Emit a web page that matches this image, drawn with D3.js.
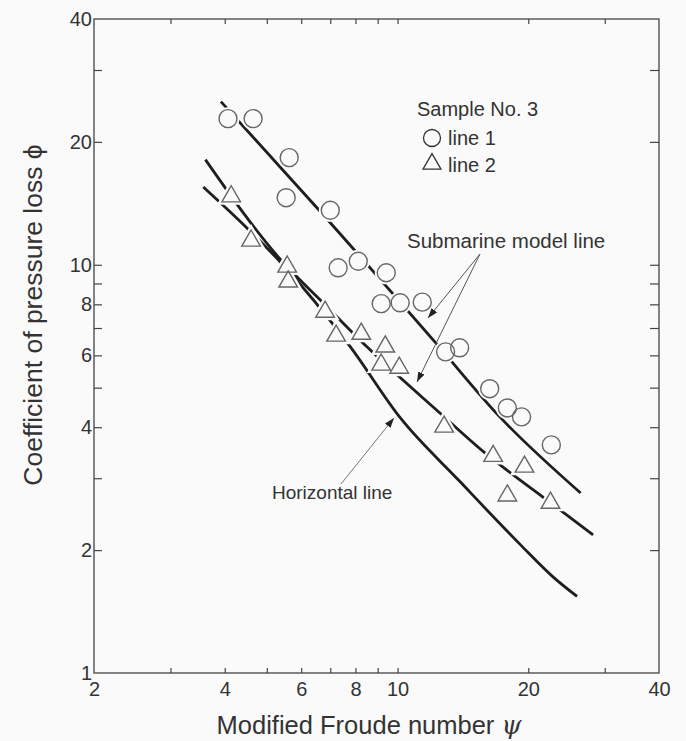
<!DOCTYPE html>
<html><head><meta charset="utf-8">
<script src="https://cdn.jsdelivr.net/npm/d3@7"></script>
<style>
body{margin:0;background:#fafafa}
text{font-family:"Liberation Sans",Arial,Helvetica,sans-serif;fill:#333}
</style>
</head><body>
<svg id="chart" width="686" height="741"></svg>
<script>
// ---- data ----
const xTickLabels = [2, 4, 6, 8, 10, 20, 40];
const xMinorTicks = [3, 5, 7, 9, 30];
const yTickLabels = [1, 2, 4, 6, 8, 10, 20, 40];
const yMinorTicks = [3, 5, 7, 9, 30];

// measured points, Sample No. 3
const line1X = [4.07, 4.65, 5.63, 5.54, 7.0, 7.3, 8.12, 9.42, 9.17, 10.14, 11.4, 12.9, 13.9, 16.3, 17.9, 19.3, 22.6];
const line1Y = [22.8, 22.8, 18.3, 14.6, 13.6, 9.83, 10.2, 9.56, 8.03, 8.07, 8.1, 6.12, 6.26, 4.97, 4.46, 4.24, 3.62];
const line2X = [4.14, 4.60, 5.57, 5.60, 6.81, 7.22, 8.25, 9.37, 9.17, 10.09, 12.8, 16.6, 17.9, 19.6, 22.5];
const line2Y = [14.7, 11.45, 9.89, 9.09, 7.67, 6.70, 6.77, 6.30, 5.69, 5.59, 4.01, 3.40, 2.72, 3.20, 2.61];

// submarine model lines
const model1X = [3.92, 6.56, 12.3, 17.2, 26.4];
const model1Y = [25.1, 13.7, 6.40, 4.24, 2.76];
const model2X = [3.61, 5.42, 6.74, 8.55, 12.5, 15.9, 21.7, 28.2];
const model2Y = [18.1, 10.2, 8.07, 6.26, 4.34, 3.46, 2.69, 2.18];
// horizontal line
const horizX = [3.57, 4.50, 5.37, 7.78, 10.14, 13.94, 19.2, 22.8, 25.9];
const horizY = [15.5, 12.3, 10.16, 6.30, 4.22, 2.94, 2.06, 1.72, 1.54];

// ---- layout ----
const L = 94, R = 659, T = 19, B = 673;
const svg = d3.select("#chart");
svg.append("rect").attr("width", 686).attr("height", 741).attr("fill", "#fafafa");

const x = d3.scaleLog().domain([2, 40]).range([L, R]);
const y = d3.scaleLog().domain([1, 40]).range([B, T]);

const axisColor = "#444";
const allX = xTickLabels.concat(xMinorTicks).sort((a,b)=>a-b);
const allY = yTickLabels.concat(yMinorTicks).sort((a,b)=>a-b);

function styleAxis(g){
  g.select(".domain").remove();
  g.selectAll(".tick line").attr("stroke", axisColor).attr("stroke-width", 1.2);
  g.selectAll(".tick text").attr("fill", "#333").style("font-size", "20px")
    .style("font-family", '"Liberation Sans",Arial,sans-serif');
}

// bottom axis
svg.append("g").attr("transform", `translate(0,${B})`)
  .call(d3.axisBottom(x).tickValues(allX.filter(v => v > 2 && v < 40)).tickSize(-5).tickFormat(() => ""))
  .call(styleAxis);
svg.append("g").attr("transform", `translate(0,${B})`)
  .call(d3.axisBottom(x).tickValues(xTickLabels).tickSize(0).tickPadding(9).tickFormat(d3.format("d")))
  .call(styleAxis);
// top axis
svg.append("g").attr("transform", `translate(0,${T})`)
  .call(d3.axisTop(x).tickValues(allX.filter(v => v > 2 && v < 40)).tickSize(-5).tickFormat(() => ""))
  .call(styleAxis);
// left axis
svg.append("g").attr("transform", `translate(${L},0)`)
  .call(d3.axisLeft(y).tickValues(allY.filter(v => v > 1 && v < 40)).tickSize(-8).tickFormat(() => ""))
  .call(styleAxis);
svg.append("g").attr("transform", `translate(${L},0)`)
  .call(d3.axisLeft(y).tickValues(yTickLabels).tickSize(0).tickPadding(2).tickFormat(d3.format("d")))
  .call(styleAxis);
// right axis
svg.append("g").attr("transform", `translate(${R},0)`)
  .call(d3.axisRight(y).tickValues(allY.filter(v => v > 1 && v < 40)).tickSize(-9).tickFormat(() => ""))
  .call(styleAxis);

// frame
svg.append("rect").attr("x", L).attr("y", T).attr("width", R - L).attr("height", B - T)
  .attr("fill", "none").attr("stroke", axisColor).attr("stroke-width", 1.3);

// axis titles
svg.append("text").attr("x", 369).attr("y", 734).attr("text-anchor", "middle")
  .style("font-size", "25.5px")
  .html('Modified Froude number <tspan font-style="italic" font-family="DejaVu Serif">ψ</tspan>');
svg.append("text").attr("transform", "translate(42,315) rotate(-90)").attr("text-anchor", "middle")
  .style("font-size", "26.5px")
  .text("Coefficient of pressure loss ϕ");

// curves
const lineGen = (xs, ys) => d3.line().curve(d3.curveMonotoneX)
  .x(d => x(d[0])).y(d => y(d[1]))(xs.map((v, i) => [v, ys[i]]));
const curveG = svg.append("g");
[[model1X, model1Y], [model2X, model2Y], [horizX, horizY]].forEach(([xs, ys]) => {
  curveG.append("path").attr("d", lineGen(xs, ys)).attr("fill", "none")
    .attr("stroke", "#1e1e1e").attr("stroke-width", 2.8).attr("stroke-linecap", "butt");
});

// markers
const circR = 9;
const tri = d3.symbol().type(d3.symbolTriangle).size(150);
const pts1 = line1X.map((v, i) => [v, line1Y[i]]);
const pts2 = line2X.map((v, i) => [v, line2Y[i]]);
const halo = svg.append("g");
halo.selectAll("circle").data(pts1).join("circle")
  .attr("cx", d => x(d[0])).attr("cy", d => y(d[1])).attr("r", circR)
  .attr("fill", "#fafafa").attr("stroke", "#fafafa").attr("stroke-width", 5);
halo.selectAll("path").data(pts2).join("path")
  .attr("d", tri).attr("transform", d => `translate(${x(d[0])},${y(d[1])})`)
  .attr("fill", "#fafafa").attr("stroke", "#fafafa").attr("stroke-width", 6);
const mk = svg.append("g");
mk.selectAll("circle").data(pts1).join("circle")
  .attr("cx", d => x(d[0])).attr("cy", d => y(d[1])).attr("r", circR)
  .attr("fill", "none").attr("stroke", "#666").attr("stroke-width", 1.4);
mk.selectAll("path").data(pts2).join("path")
  .attr("d", tri).attr("transform", d => `translate(${x(d[0])},${y(d[1])})`)
  .attr("fill", "none").attr("stroke", "#666").attr("stroke-width", 1.4);

// legend
svg.append("text").attr("x", 417).attr("y", 116).style("font-size", "20px").text("Sample No. 3");
svg.append("circle").attr("cx", 432).attr("cy", 138).attr("r", 8.5)
  .attr("fill", "none").attr("stroke", "#333").attr("stroke-width", 1.3);
svg.append("text").attr("x", 448).attr("y", 145).style("font-size", "20px").text("line 1");
svg.append("path").attr("d", d3.symbol().type(d3.symbolTriangle).size(140))
  .attr("transform", "translate(432,164)")
  .attr("fill", "none").attr("stroke", "#333").attr("stroke-width", 1.3);
svg.append("text").attr("x", 448).attr("y", 172).style("font-size", "20px").text("line 2");

// annotations
const defs = svg.append("defs");
defs.append("marker").attr("id", "ah").attr("viewBox", "0 0 10 10").attr("refX", 10).attr("refY", 5)
  .attr("markerWidth", 10).attr("markerHeight", 10).attr("markerUnits", "userSpaceOnUse").attr("orient", "auto")
  .append("path").attr("d", "M0,1.5 L10,5 L0,8.5 Z").attr("fill", "#222");
svg.append("text").attr("x", 407).attr("y", 248).style("font-size", "20.5px").text("Submarine model line");
svg.append("line").attr("x1", 480).attr("y1", 254).attr("x2", 428).attr("y2", 318)
  .attr("stroke", "#555").attr("stroke-width", 1).attr("marker-end", "url(#ah)");
svg.append("line").attr("x1", 480).attr("y1", 254).attr("x2", 417).attr("y2", 382)
  .attr("stroke", "#555").attr("stroke-width", 1).attr("marker-end", "url(#ah)");
svg.append("text").attr("x", 272).attr("y", 499).style("font-size", "19px").text("Horizontal line");
svg.append("line").attr("x1", 341).attr("y1", 484).attr("x2", 394).attr("y2", 418)
  .attr("stroke", "#777").attr("stroke-width", 1).attr("marker-end", "url(#ah)");
</script>
</body></html>
